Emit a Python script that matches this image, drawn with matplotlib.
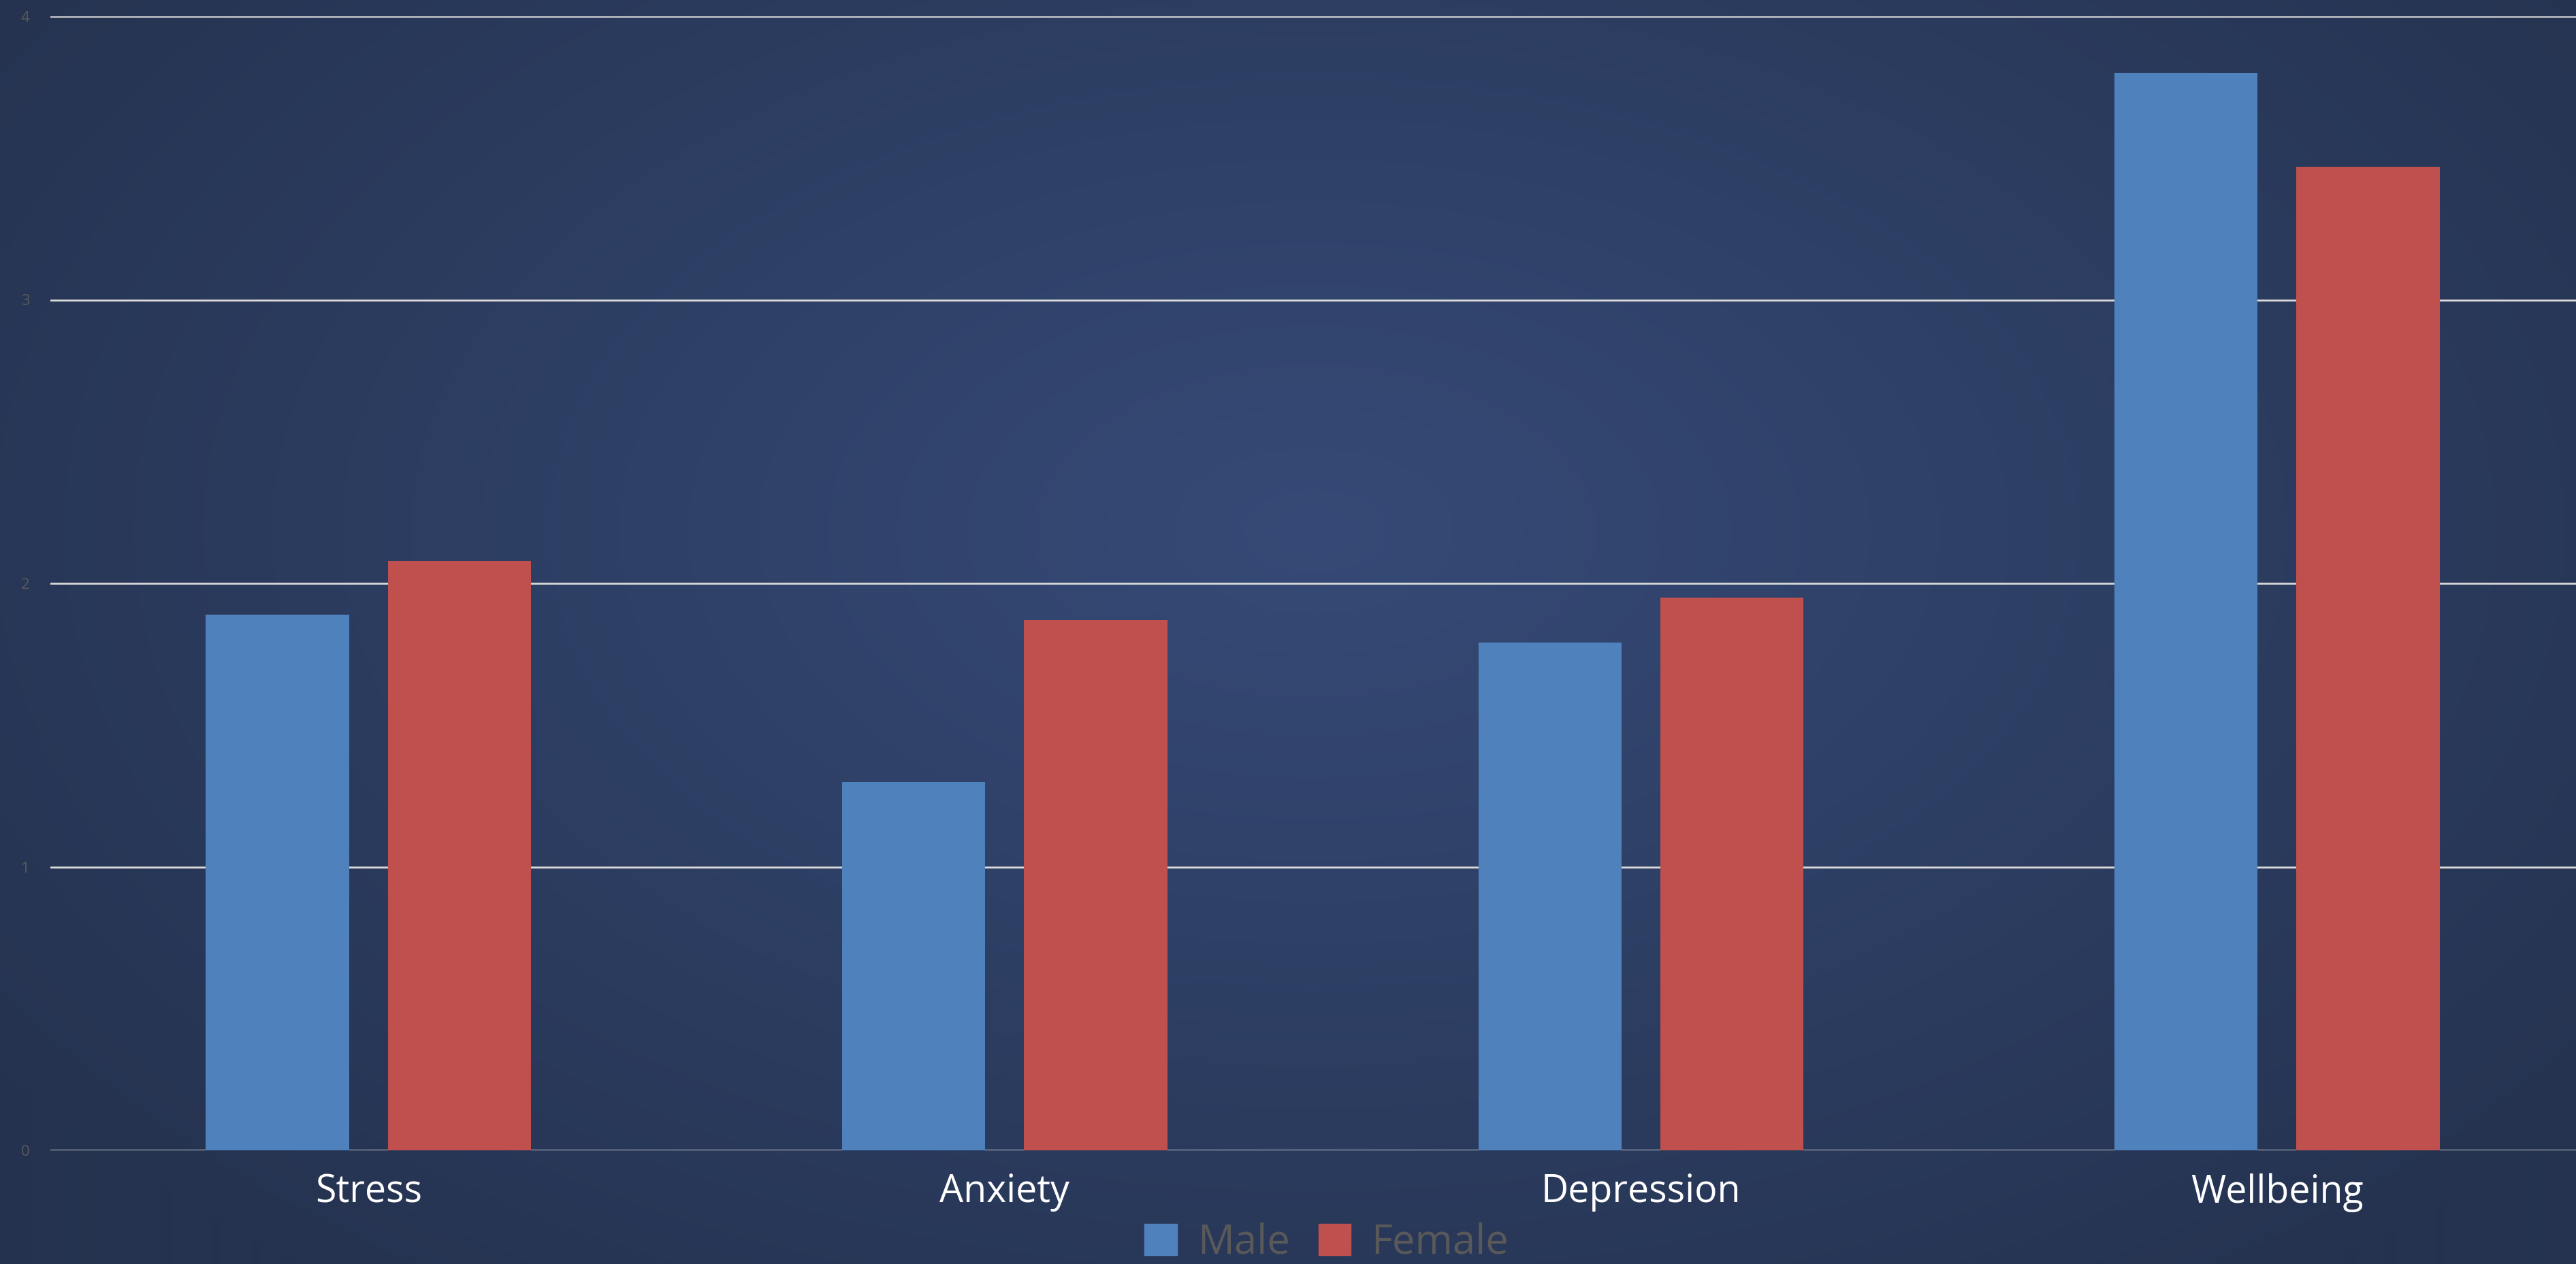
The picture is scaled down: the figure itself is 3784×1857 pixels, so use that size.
import numpy as np
from matplotlib import pyplot as plt
from matplotlib.patches import Patch

# data
categories = ['Stress', 'Anxiety', 'Depression', 'Wellbeing']
male = [1.89, 1.30, 1.79, 3.80]
female = [2.08, 1.87, 1.95, 3.47]
yticks = [0, 1, 2, 3, 4]

W, H = 3784, 1857
fig = plt.figure(figsize=(W / 100, H / 100), dpi=100)

# radial background
bg = fig.add_axes([0, 0, 1, 1], zorder=0)
yy, xx = np.mgrid[0:H, 0:W]
r = np.sqrt(((xx - W * 0.51) / (W * 0.62)) ** 2 + ((yy - H * 0.42) / (H * 0.75)) ** 2)
r = np.clip(r, 0, 1)
inner = np.array([0x36, 0x4a, 0x77]) / 255
outer = np.array([0x25, 0x33, 0x50]) / 255
img = inner[None, None, :] * (1 - r[..., None]) + outer[None, None, :] * r[..., None]
bg.imshow(img, aspect='auto', extent=[0, 1, 0, 1], origin='upper')
bg.axis('off')

# axes: left 74px, top 24px, bottom 1690px
ax = fig.add_axes([74 / W, 1 - 1690 / H, 1 - 74 / W, (1690 - 24) / H], zorder=1)
ax.patch.set_alpha(0)

x = np.arange(len(categories))
bw = 0.225
ax.bar(x - 0.143, male, bw, color='#4f81bd', label='Male', zorder=3)
ax.bar(x + 0.143, female, bw, color='#c0504d', label='Female', zorder=3)

ax.set_ylim(0, 4)
ax.set_xlim(-0.5, 3.47)
ax.set_yticks(yticks)
ax.yaxis.grid(True, color='#d9d9d9', linewidth=2, zorder=1)
ax.set_axisbelow(True)
for s in ax.spines.values():
    s.set_visible(False)
ax.tick_params(axis='y', length=0, pad=22, labelsize=16, labelcolor='#595959')
ax.tick_params(axis='x', length=0, pad=24, labelsize=40, labelcolor='white')
ax.set_xticks(x)
ax.set_xticklabels(categories, fontfamily='Open Sans')
for t in ax.get_yticklabels():
    t.set_fontfamily('Open Sans')

handles = [Patch(color='#4f81bd', label='Male'), Patch(color='#c0504d', label='Female')]
fig.legend(handles=handles, loc='center', bbox_to_anchor=(0.515, 0.017), ncol=2,
           frameon=False, prop={'family': 'Open Sans', 'size': 43}, labelcolor='#595959',
           handlelength=0.8, handleheight=0.8, handletextpad=0.5, columnspacing=0.7,
           borderpad=0)

fig.savefig('out.png', dpi=100)
